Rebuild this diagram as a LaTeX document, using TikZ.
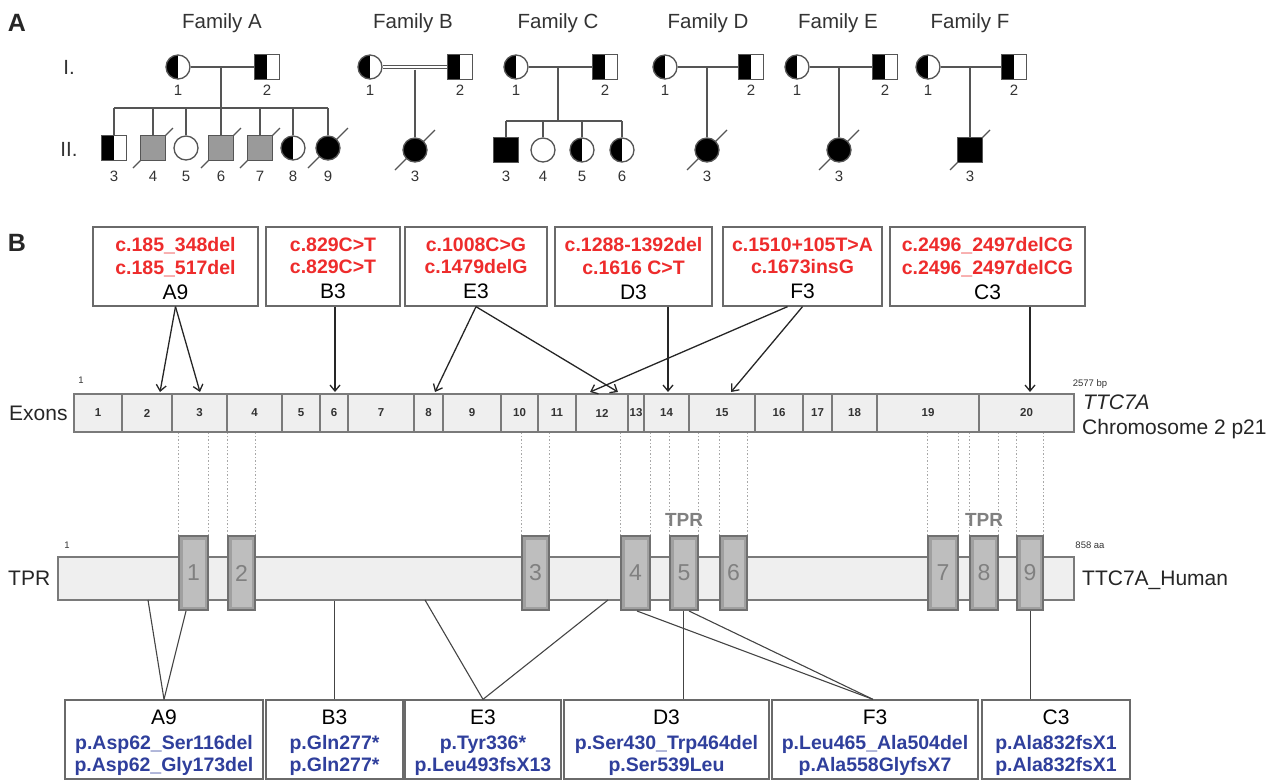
\documentclass[tikz,border=0pt]{standalone}
\usepackage{fontspec}
\setmainfont{Liberation Sans}
\usetikzlibrary{arrows.meta,backgrounds}
\definecolor{mutred}{HTML}{EE2C2C}
\definecolor{protblue}{HTML}{2F3F9C}
\definecolor{pedline}{HTML}{555555}
\definecolor{pedtext}{HTML}{333333}
\definecolor{pedgray}{HTML}{9A9A9A}
\definecolor{boxline}{HTML}{6A6A6A}
\definecolor{barfill}{HTML}{EFEFEF}
\definecolor{barline}{HTML}{7A7A7A}
\definecolor{tprdark}{HTML}{707070}
\definecolor{tprmid}{HTML}{A0A0A0}
\definecolor{tprlight}{HTML}{BEBEBE}
\definecolor{tprtext}{HTML}{808080}
\definecolor{connc}{HTML}{444444}
\definecolor{dotgray}{HTML}{A8A8A8}
\newcommand{\myfs}[1]{\fontsize{#1}{#1}\selectfont}
\newcommand{\myfsl}[2]{\fontsize{#1}{#2}\selectfont}
\newcommand{\mutr}[1]{\textcolor{mutred}{\bfseries #1}}
\newcommand{\protb}[1]{\textcolor{protblue}{\bfseries #1}}
\tikzset{
  ped/.style={draw=pedline, line width=1.3pt},
  fem/.style={circle, ped, minimum size=24pt, inner sep=0pt, fill=white},
  mal/.style={rectangle, ped, minimum size=25pt, inner sep=0pt, fill=white},
  carrier/.style={path picture={\fill[black] (path picture bounding box.south west) rectangle (path picture bounding box.north);}},
  aff/.style={fill=black},
  affgray/.style={fill=pedgray},
  dead/.style={draw=pedline, line width=1.2pt},
  pnum/.style={font=\myfs{15}, text=pedtext, inner sep=0pt},
  ftitle/.style={font=\myfs{20.5}, text=pedtext, inner sep=0pt},
  plabel/.style={font=\myfs{25}\bfseries, text=black!85, inner sep=0pt},
  mutbox/.style={rectangle, draw=boxline, line width=1.3pt, fill=white, inner sep=0pt, minimum height=79pt},
  boxtext/.style={inner sep=0pt, align=center, font=\myfsl{19.5}{22.5}},
  arr/.style={draw=black!85, line width=1.3pt, -{Straight Barb[length=6pt,width=10pt]}},
  exon/.style={rectangle, draw=barline, line width=1.5pt, fill=barfill, minimum height=38pt, inner sep=0pt, font=\myfs{11.5}\bfseries, text=pedtext},
  tprbox/.style={rectangle, draw=tprdark, line width=1.3pt, fill=tprmid, inner sep=0pt, minimum height=74pt, font=\myfs{23}, text=tprtext,
    path picture={\fill[tprlight] ([shift={(3.5pt,-3.5pt)}]path picture bounding box.north west) rectangle ([shift={(-3.5pt,3.5pt)}]path picture bounding box.south east);}},
  dotl/.style={draw=dotgray, line width=0.8pt, dash pattern=on 1.5pt off 2pt},
  connl/.style={draw=connc, line width=1.1pt},
  small/.style={font=\myfs{9.5}, text=pedtext, inner sep=0pt},
  biglabel/.style={font=\myfs{21}, text=black!85, inner sep=0pt, anchor=west}
}
\begin{document}
\begin{tikzpicture}[x=1pt,y=-1pt]
\useasboundingbox (0,0) rectangle (1277,780);

% ---------------- Panel A ----------------
\node[plabel] (lA) at (17,23) {A};
\node[ftitle] (tFA) at (222,23) {Family A};
\node[ftitle] (tFB) at (413,23) {Family B};
\node[ftitle] (tFC) at (558,23) {Family C};
\node[ftitle] (tFD) at (708,23) {Family D};
\node[ftitle] (tFE) at (838,23) {Family E};
\node[ftitle] (tFF) at (970,23) {Family F};
\node[ftitle] (gI) at (69,67) {I.};
\node[ftitle] (gII) at (69,149) {II.};

% Family A
\node[fem,carrier] (A1) at (178,67) {};
\node[mal,carrier] (A2) at (267,67) {};
\draw[ped] (A1) -- (A2);
\coordinate (Am) at (221,67);
\coordinate (As) at (221,108);
\draw[ped] (Am) -- (As);
\node[mal,carrier] (A3) at (114,148) {};
\node[mal,affgray] (A4) at (153,148) {};
\node[fem] (A5) at (186,148) {};
\node[mal,affgray] (A6) at (221,148) {};
\node[mal,affgray] (A7) at (260,148) {};
\node[fem,carrier] (A8) at (293,148) {};
\node[fem,aff] (A9) at (328,148) {};
\draw[ped] (A3.north |- As) -- (A9.north |- As);
\foreach \n in {A3,A4,A5,A6,A7,A8,A9} \draw[ped] (\n.north |- As) -- (\n.north);

% Family B
\node[fem,carrier] (B1) at (370,67) {};
\node[mal,carrier] (B2) at (460,67) {};
\draw[draw=pedline, line width=1pt, double=white, double distance=2.6pt] (B1) -- (B2);
\node[fem,aff] (B3) at (415,150) {};
\coordinate (Bm) at (415,69.5);
\draw[ped] (Bm) -- (B3.north);

% Family C
\node[fem,carrier] (C1) at (516,67) {};
\node[mal,carrier] (C2) at (605,67) {};
\draw[ped] (C1) -- (C2);
\coordinate (Cm) at (558,67);
\coordinate (Cs) at (558,121);
\draw[ped] (Cm) -- (Cs);
\node[mal,aff] (C3) at (506,150) {};
\node[fem] (C4) at (543,150) {};
\node[fem,carrier] (C5) at (582,150) {};
\node[fem,carrier] (C6) at (622,150) {};
\draw[ped] (C3.north |- Cs) -- (C6.north |- Cs);
\foreach \n in {C3,C4,C5,C6} \draw[ped] (\n.north |- Cs) -- (\n.north);

% Family D
\node[fem,carrier] (D1) at (665,67) {};
\node[mal,carrier] (D2) at (751,67) {};
\draw[ped] (D1) -- (D2);
\node[fem,aff] (D3) at (707,150) {};
\coordinate (Dm) at (707,67);
\draw[ped] (Dm) -- (D3.north);

% Family E
\node[fem,carrier] (E1) at (797,67) {};
\node[mal,carrier] (E2) at (885,67) {};
\draw[ped] (E1) -- (E2);
\node[fem,aff] (E3) at (839,150) {};
\coordinate (Em) at (839,67);
\draw[ped] (Em) -- (E3.north);

% Family F
\node[fem,carrier] (F1) at (928,67) {};
\node[mal,carrier] (F2) at (1014,67) {};
\draw[ped] (F1) -- (F2);
\node[mal,aff] (F3) at (970,150) {};
\coordinate (Fm) at (970,67);
\draw[ped] (Fm) -- (F3.north);

% deceased slashes (behind the symbols)
\begin{scope}[on background layer]
\foreach \n in {A4,A6,A7,A9,B3,D3,E3,F3}
  \draw[dead] ([shift={(-20pt,-20pt)}]\n.center) -- ([shift={(20pt,20pt)}]\n.center);
\end{scope}

% numbers
\foreach \n in {A1,B1,C1,D1,E1,F1} \node[pnum] (\n n) at (\n |- 0,90) {1};
\foreach \n in {A2,B2,C2,D2,E2,F2} \node[pnum] (\n n) at (\n |- 0,90) {2};
\foreach \n/\t in {A3/3,A4/4,A5/5,A6/6,A7/7,A8/8,A9/9,B3/3,C3/3,C4/4,C5/5,C6/6,D3/3,E3/3,F3/3}
  \node[pnum] (\n n) at (\n |- 0,176) {\t};

% ---------------- Panel B ----------------
\node[plabel] (lB) at (17,243) {B};

% mutation boxes (top)
\foreach \nm/\cx/\w in {A9/175.5/165,B3/333/134,E3/476/142,D3/633.5/157,F3/802.5/159,C3/987.5/195}
  \node[mutbox, minimum width=\w pt] (t\nm) at (\cx,266.5) {};
\node[boxtext] (tA9x) at ([yshift=-2pt]tA9.center) {\mutr{c.185\_348del}\\\mutr{c.185\_517del}\\[2.5pt]{\myfs{21}A9}};
\node[boxtext] (tB3x) at ([yshift=-2pt]tB3.center) {\mutr{c.829C>T}\\\mutr{c.829C>T}\\[2.5pt]{\myfs{21}B3}};
\node[boxtext] (tE3x) at ([yshift=-2pt]tE3.center) {\mutr{c.1008C>G}\\\mutr{c.1479delG}\\[2.5pt]{\myfs{21}E3}};
\node[boxtext] (tD3x) at ([yshift=-2pt]tD3.center) {\mutr{c.1288-1392del}\\\mutr{c.1616 C>T}\\[2.5pt]{\myfs{21}D3}};
\node[boxtext] (tF3x) at ([yshift=-2pt]tF3.center) {\mutr{c.1510+105T>A}\\\mutr{c.1673insG}\\[2.5pt]{\myfs{21}F3}};
\node[boxtext] (tC3x) at ([yshift=-2pt]tC3.center) {\mutr{c.2496\_2497delCG}\\\mutr{c.2496\_2497delCG}\\[2.5pt]{\myfs{21}C3}};

% exon bar
\foreach \a/\b/\n in {74/122/1,122/172/2,172/227/3,227/282/4,282/320/5,320/348/6,348/414/7,414/443/8,443/501/9,501/538/10,538/576/11,576/628/12,628/644/13,644/689/14,689/755/15,755/803/16,803/832/17,832/877/18,877/979/19,979/1074/20}
  \node[exon, minimum width={(\b-\a)*1pt}] (e\n) at ({(\a+\b)/2},413) {\n};

\node[small] (gstart) at (81,380) {1};
\node[small] (gend) at (1090,384) {2577 bp};
\node[biglabel] (exl) at (9,413) {Exons};
\node[biglabel, font=\myfs{21}\itshape] (ttc) at (1083,402) {TTC7A};
\node[biglabel] (chr) at (1082,429) {Chromosome 2 p21};

% arrows to exons
\coordinate (aA9a) at (160,392);
\coordinate (aA9b) at (200,392);
\coordinate (aB3) at (335,392);
\coordinate (aE3a) at (435,392);
\coordinate (aE3b) at (618,392);
\coordinate (aD3) at (668,392);
\coordinate (aF3a) at (590,392);
\coordinate (aF3b) at (731,392);
\coordinate (aC3) at (1030,392);
\draw[arr] (tA9.south) -- (aA9a);
\draw[arr] (tA9.south) -- (aA9b);
\draw[arr] (tB3.south -| aB3) -- (aB3);
\draw[arr] (tE3.south) -- (aE3a);
\draw[arr] (tE3.south) -- (aE3b);
\draw[arr] (tD3.south -| aD3) -- (aD3);
\draw[arr] ([xshift=-15pt]tF3.south) -- (aF3a);
\draw[arr] (tF3.south) -- (aF3b);
\draw[arr] (tC3.south -| aC3) -- (aC3);

% protein bar
\node[rectangle, draw=barline, line width=1.5pt, fill=barfill, minimum width=1016pt, minimum height=43pt, inner sep=0pt] (tprbar) at (566,578.5) {};
\node[small] (pstart) at (67,545) {1};
\node[small] (pend) at (1090,545) {858 aa};
\node[biglabel] (tprl) at (8,578) {TPR};
\node[biglabel] (hum) at (1082,580) {TTC7A\_Human};

% TPR repeats
\foreach \a/\b/\n in {179/208/1,228/255/2,522/549/3,621/650/4,670/698/5,720/747/6,928/958/7,970/998/8,1017/1043/9}
  \node[tprbox, minimum width={(\b-\a)*1pt}] (p\n) at ({(\a+\b)/2},573) {\n};
\foreach \n in {1,...,9} {
  \draw[dotl] (p\n.north west) -- (p\n.north west |- e1.south);
  \draw[dotl] (p\n.north east) -- (p\n.north east |- e1.south);
}
\node[font=\myfs{19}\bfseries, text=tprtext, inner sep=0pt] (tprA) at (684,520) {TPR};
\node[font=\myfs{19}\bfseries, text=tprtext, inner sep=0pt] (tprB) at (984,520) {TPR};

% protein change boxes (bottom)
\foreach \nm/\cx/\w in {A9/164/198,B3/334.5/137,E3/483/156,D3/666.5/205,F3/875/206,C3/1056/148}
  \node[mutbox, minimum width=\w pt] (b\nm) at (\cx,739.5) {};
\node[boxtext] (bA9x) at ([yshift=-3pt]bA9.center) {{\myfs{21}A9}\\[2.5pt]\protb{p.Asp62\_Ser116del}\\\protb{p.Asp62\_Gly173del}};
\node[boxtext] (bB3x) at ([yshift=-3pt]bB3.center) {{\myfs{21}B3}\\[2.5pt]\protb{p.Gln277*}\\\protb{p.Gln277*}};
\node[boxtext] (bE3x) at ([yshift=-3pt]bE3.center) {{\myfs{21}E3}\\[2.5pt]\protb{p.Tyr336*}\\\protb{p.Leu493fsX13}};
\node[boxtext] (bD3x) at ([yshift=-3pt]bD3.center) {{\myfs{21}D3}\\[2.5pt]\protb{p.Ser430\_Trp464del}\\\protb{p.Ser539Leu}};
\node[boxtext] (bF3x) at ([yshift=-3pt]bF3.center) {{\myfs{21}F3}\\[2.5pt]\protb{p.Leu465\_Ala504del}\\\protb{p.Ala558GlyfsX7}};
\node[boxtext] (bC3x) at ([yshift=-3pt]bC3.center) {{\myfs{21}C3}\\[2.5pt]\protb{p.Ala832fsX1}\\\protb{p.Ala832fsX1}};

% connectors protein -> boxes
\coordinate (cA9a) at (148,600);
\coordinate (cA9b) at (186,611);
\coordinate (cE3a) at (425,600);
\coordinate (cE3b) at (608,600);
\coordinate (cF3a) at (637,611);
\coordinate (cF3b) at (689,611);
\draw[connl] (cA9a) -- (bA9.north);
\draw[connl] (cA9b) -- (bA9.north);
\draw[connl] (bB3.north |- tprbar.south) -- (bB3.north);
\draw[connl] (cE3a) -- (bE3.north);
\draw[connl] (cE3b) -- (bE3.north);
\draw[connl] ([xshift=-0.5pt]p5.south) -- ([xshift=-0.5pt]p5.south |- bD3.north);
\draw[connl] (cF3a) -- ([xshift=-2pt]bF3.north);
\draw[connl] (cF3b) -- ([xshift=-2pt]bF3.north);
\draw[connl] ([xshift=0.5pt]p9.south) -- ([xshift=0.5pt]p9.south |- bC3.north);
\end{tikzpicture}
\end{document}
